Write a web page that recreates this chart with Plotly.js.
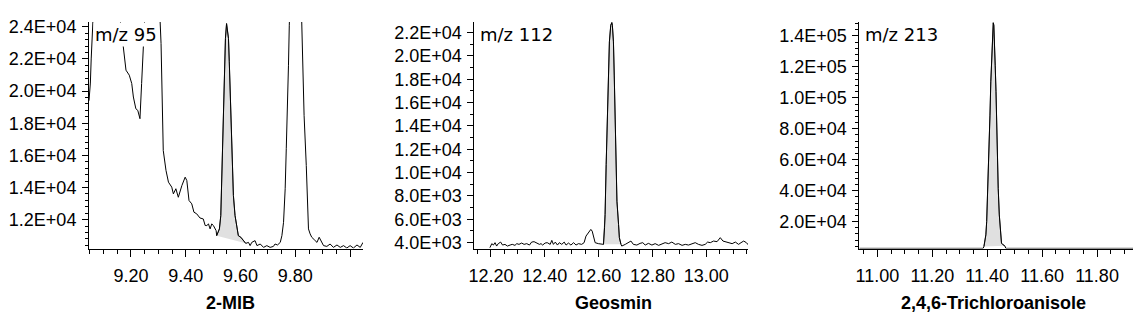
<!DOCTYPE html>
<html>
<head>
<meta charset="utf-8">
<script src="https://cdn.plot.ly/plotly-3.0.1.min.js"></script>
<style>html,body{margin:0;padding:0;background:#fff;}#chart{width:1140px;height:326px;}</style>
</head>
<body>
<div id="chart"></div>
<script>
// ---------- Panel 1 : 2-MIB (m/z 95) ----------
const t1 = [9.047, 9.052, 9.055, 9.058, 9.062, 9.08, 9.11, 9.14, 9.16, 9.172, 9.182, 9.194, 9.203, 9.209, 9.218, 9.225, 9.233, 9.239, 9.245, 9.250, 9.26, 9.28, 9.30, 9.310, 9.316, 9.318, 9.328, 9.337, 9.349, 9.355, 9.364, 9.373, 9.386, 9.398, 9.404, 9.412, 9.422, 9.430, 9.440, 9.452, 9.464, 9.471, 9.477, 9.483, 9.489, 9.495, 9.501, 9.507, 9.511, 9.513, 9.523, 9.528, 9.532, 9.535, 9.538, 9.541, 9.545, 9.549, 9.552, 9.556, 9.559, 9.562, 9.566, 9.568, 9.574, 9.580, 9.587, 9.592, 9.601, 9.611, 9.619, 9.629, 9.635, 9.641, 9.653, 9.660, 9.672, 9.684, 9.696, 9.708, 9.720, 9.726, 9.735, 9.745, 9.751, 9.757, 9.763, 9.767, 9.771, 9.775, 9.778, 9.785, 9.80, 9.815, 9.824, 9.828, 9.832, 9.840, 9.844, 9.848, 9.854, 9.860, 9.869, 9.879, 9.887, 9.893, 9.903, 9.915, 9.927, 9.939, 9.952, 9.964, 9.976, 9.988, 10.000, 10.012, 10.025, 10.037, 10.047];
const i1 = [19400, 20500, 22000, 23300, 24600, 28000, 29500, 27500, 24500, 22960, 21300, 20990, 20470, 19630, 18900, 18800, 18280, 20470, 22960, 24600, 28000, 30000, 27000, 22960, 18600, 16300, 15060, 14330, 14020, 13600, 13920, 13390, 14120, 14640, 14430, 13190, 12980, 12460, 12360, 12100, 12040, 11630, 11630, 11730, 11420, 11730, 11630, 11420, 11310, 11000, 11420, 12250, 14950, 16620, 18910, 21610, 23280, 24200, 23900, 23280, 21820, 19940, 17450, 15580, 13500, 12250, 11420, 11000, 10900, 10690, 10520, 10580, 10380, 10580, 10690, 10380, 10480, 10270, 10380, 10270, 10330, 10480, 10420, 10580, 11000, 11830, 13920, 16410, 18490, 21610, 24100, 30000, 36000, 30000, 24300, 21610, 18490, 15370, 13290, 11420, 11110, 10900, 10750, 10580, 10900, 10690, 10380, 10330, 10480, 10270, 10420, 10270, 10380, 10230, 10380, 10230, 10420, 10270, 10580];
const peak1 = [9.513, 9.619];

// ---------- Panel 2 : Geosmin (m/z 112) ----------
const t2 = [12.196, 12.203, 12.209, 12.215, 12.221, 12.227, 12.236, 12.243, 12.252, 12.261, 12.271, 12.279, 12.289, 12.296, 12.304, 12.314, 12.323, 12.333, 12.343, 12.351, 12.360, 12.370, 12.380, 12.386, 12.392, 12.401, 12.409, 12.420, 12.426, 12.432, 12.439, 12.447, 12.454, 12.463, 12.472, 12.479, 12.488, 12.497, 12.507, 12.516, 12.525, 12.537, 12.546, 12.553, 12.562, 12.571, 12.576, 12.581, 12.587, 12.599, 12.612, 12.618, 12.622, 12.624, 12.628, 12.633, 12.637, 12.640, 12.645, 12.649, 12.651, 12.655, 12.658, 12.661, 12.665, 12.668, 12.674, 12.677, 12.683, 12.686, 12.699, 12.711, 12.720, 12.729, 12.742, 12.754, 12.764, 12.773, 12.785, 12.798, 12.810, 12.823, 12.835, 12.847, 12.860, 12.872, 12.885, 12.897, 12.910, 12.922, 12.934, 12.947, 12.959, 12.971, 12.984, 12.996, 13.005, 13.015, 13.027, 13.040, 13.052, 13.062, 13.071, 13.083, 13.096, 13.108, 13.120, 13.129, 13.139, 13.149, 13.157];
const i2 = [3570, 3915, 3795, 4000, 3710, 3915, 4050, 3795, 3855, 3710, 3795, 3855, 3770, 3915, 3855, 3966, 3855, 3915, 3795, 4050, 4085, 3966, 3855, 3915, 3795, 3966, 4000, 3855, 4196, 3855, 4050, 3795, 4000, 3855, 4050, 3795, 3966, 3795, 4000, 3795, 3915, 3855, 4000, 4563, 4853, 5134, 4990, 4427, 4000, 3915, 3855, 3855, 5280, 6414, 10679, 14944, 19209, 21197, 22621, 22850, 22621, 21197, 18356, 14944, 10679, 7548, 5561, 4427, 3855, 3710, 3855, 4000, 4137, 3855, 3795, 3940, 4000, 3795, 3940, 3795, 3915, 3770, 3855, 4000, 3915, 4051, 3855, 3915, 3770, 3855, 3795, 3915, 4000, 3855, 3770, 3855, 4051, 4000, 4137, 4085, 4427, 4137, 4085, 4000, 3915, 4051, 3855, 4000, 4137, 4000, 3795];
const peak2 = [12.618, 12.683];

// ---------- Panel 3 : 2,4,6-Trichloroanisole (m/z 213) ----------
const t3 = [10.934, 11.10, 11.30, 11.385, 11.388, 11.395, 11.398, 11.401, 11.404, 11.407, 11.410, 11.413, 11.416, 11.420, 11.422, 11.424, 11.427, 11.429, 11.432, 11.434, 11.436, 11.440, 11.444, 11.449, 11.452, 11.458, 11.464, 11.468, 11.60, 11.80, 11.931];
const i3 = [2700, 2700, 2700, 2700, 3875, 11420, 20000, 35090, 50120, 71600, 88820, 110300, 127500, 142500, 148500, 146900, 136100, 121100, 103900, 84500, 63000, 41500, 24300, 11420, 6070, 4960, 4300, 2700, 2700, 2700, 2700];
const peak3 = [11.388, 11.464];

// ---------- Ticks & labels ----------
const xTicks1 = [9.2, 9.4, 9.6, 9.8, 10.0];
const xLabels1 = ['9.20', '9.40', '9.60', '9.80', ''];
const xTicks2 = [12.2, 12.4, 12.6, 12.8, 13.0];
const xLabels2 = ['12.20', '12.40', '12.60', '12.80', '13.00'];
const xTicks3 = [11.0, 11.2, 11.4, 11.6, 11.8];
const xLabels3 = ['11.00', '11.20', '11.40', '11.60', '11.80'];
const yTicks1 = [12000, 14000, 16000, 18000, 20000, 22000, 24000];
const yLabels1 = ['1.2E+04', '1.4E+04', '1.6E+04', '1.8E+04', '2.0E+04', '2.2E+04', '2.4E+04'];
const yTicks2 = [4000, 6000, 8000, 10000, 12000, 14000, 16000, 18000, 20000, 22000];
const yLabels2 = ['4.0E+03', '6.0E+03', '8.0E+03', '1.0E+04', '1.2E+04', '1.4E+04', '1.6E+04', '1.8E+04', '2.0E+04', '2.2E+04'];
const yTicks3 = [20000, 40000, 60000, 80000, 100000, 120000, 140000];
const yLabels3 = ['2.0E+04', '4.0E+04', '6.0E+04', '8.0E+04', '1.0E+05', '1.2E+05', '1.4E+05'];

const compounds = ['2-MIB', 'Geosmin', '2,4,6-Trichloroanisole'];
const ions = ['m/z 95', 'm/z 112', 'm/z 213'];

// ---------- Build ----------
function peakPoly(t, y, win) {
  const px = [], py = [];
  for (let k = 0; k < t.length; k++) {
    if (t[k] >= win[0] - 1e-9 && t[k] <= win[1] + 1e-9) { px.push(t[k]); py.push(y[k]); }
  }
  return {px, py};
}
const sets = [[t1, i1, peak1], [t2, i2, peak2], [t3, i3, peak3]];
const data = [];
sets.forEach((s, idx) => {
  const suf = idx === 0 ? '' : String(idx + 1);
  const p = peakPoly(s[0], s[1], s[2]);
  data.push({x: p.px, y: p.py, xaxis: 'x' + suf, yaxis: 'y' + suf, type: 'scatter', mode: 'lines',
    fill: 'toself', fillcolor: '#e0e0e0', line: {color: '#505050', width: 1}, hoverinfo: 'skip', showlegend: false});
  data.push({x: s[0], y: s[1], xaxis: 'x' + suf, yaxis: 'y' + suf, type: 'scatter', mode: 'lines',
    line: {color: '#000', width: 1}, hoverinfo: 'skip', showlegend: false, cliponaxis: true});
});

const W = 1140, H = 326;
const axL = [89, 474.3, 859.3], axR = [363, 748, 1133];
const yBot = 1 - 248.5 / H, yTop = 1 - 22 / H;
const tickFont = {family: 'Liberation Sans, Arial, sans-serif', size: 18, color: '#000'};
const xr = [[9.047, 10.047], [12.138, 13.155], [10.934, 11.931]];
const yr = [[10200, 24300], [3500, 22900], [2600, 149000]];
const yMinor = [400, 1000, 4000];
const xT = [xTicks1, xTicks2, xTicks3], xL = [xLabels1, xLabels2, xLabels3];
const yT = [yTicks1, yTicks2, yTicks3], yL = [yLabels1, yLabels2, yLabels3];

const layout = {
  width: W, height: H, margin: {l: 0, r: 0, t: 0, b: 0},
  paper_bgcolor: '#fff', plot_bgcolor: '#fff', showlegend: false,
  annotations: []
};
for (let k = 0; k < 3; k++) {
  const suf = k === 0 ? '' : String(k + 1);
  layout['xaxis' + suf] = {
    domain: [axL[k] / W, axR[k] / W], range: xr[k], anchor: 'y' + suf,
    showline: true, linecolor: '#000', linewidth: 1, showgrid: false, zeroline: false,
    tickmode: 'array', tickvals: xT[k], ticktext: xL[k], ticks: 'outside', ticklen: 7, tickcolor: '#000', tickwidth: 1,
    tickfont: tickFont, ticklabelstandoff: 4,
    minor: {tickmode: 'linear', tick0: 0, dtick: 0.05, ticks: 'outside', ticklen: 4, tickcolor: '#000', tickwidth: 1, showgrid: false}
  };
  layout['yaxis' + suf] = {
    domain: [yBot, yTop], range: yr[k], anchor: 'x' + suf,
    showline: true, linecolor: '#000', linewidth: 1, showgrid: false, zeroline: false,
    tickmode: 'array', tickvals: yT[k], ticktext: yL[k], ticks: 'outside', ticklen: 6, tickcolor: '#000', tickwidth: 1,
    tickfont: tickFont, ticklabelstandoff: 2,
    minor: {tickmode: 'linear', tick0: 0, dtick: yMinor[k], ticks: 'outside', ticklen: 3, tickcolor: '#000', tickwidth: 1, showgrid: false}
  };
  layout.annotations.push({
    xref: 'paper', yref: 'paper', x: (axL[k] + 4) / W, y: yTop, xanchor: 'left', yanchor: 'top',
    text: ions[k], showarrow: false, bgcolor: '#fff', borderpad: 1,
    font: {family: 'DejaVu Sans, sans-serif', size: 18, color: '#000'}
  });
  layout.annotations.push({
    xref: 'paper', yref: 'paper', x: [230, 613, 993][k] / W, y: 1 - 302.5 / H, xanchor: 'center', yanchor: 'middle',
    text: '<b>' + compounds[k] + '</b>', showarrow: false,
    font: {family: 'Liberation Sans, Arial, sans-serif', size: 18, color: '#000'}
  });
}
Plotly.newPlot('chart', data, layout, {staticPlot: true, displayModeBar: false});
</script>
</body>
</html>
